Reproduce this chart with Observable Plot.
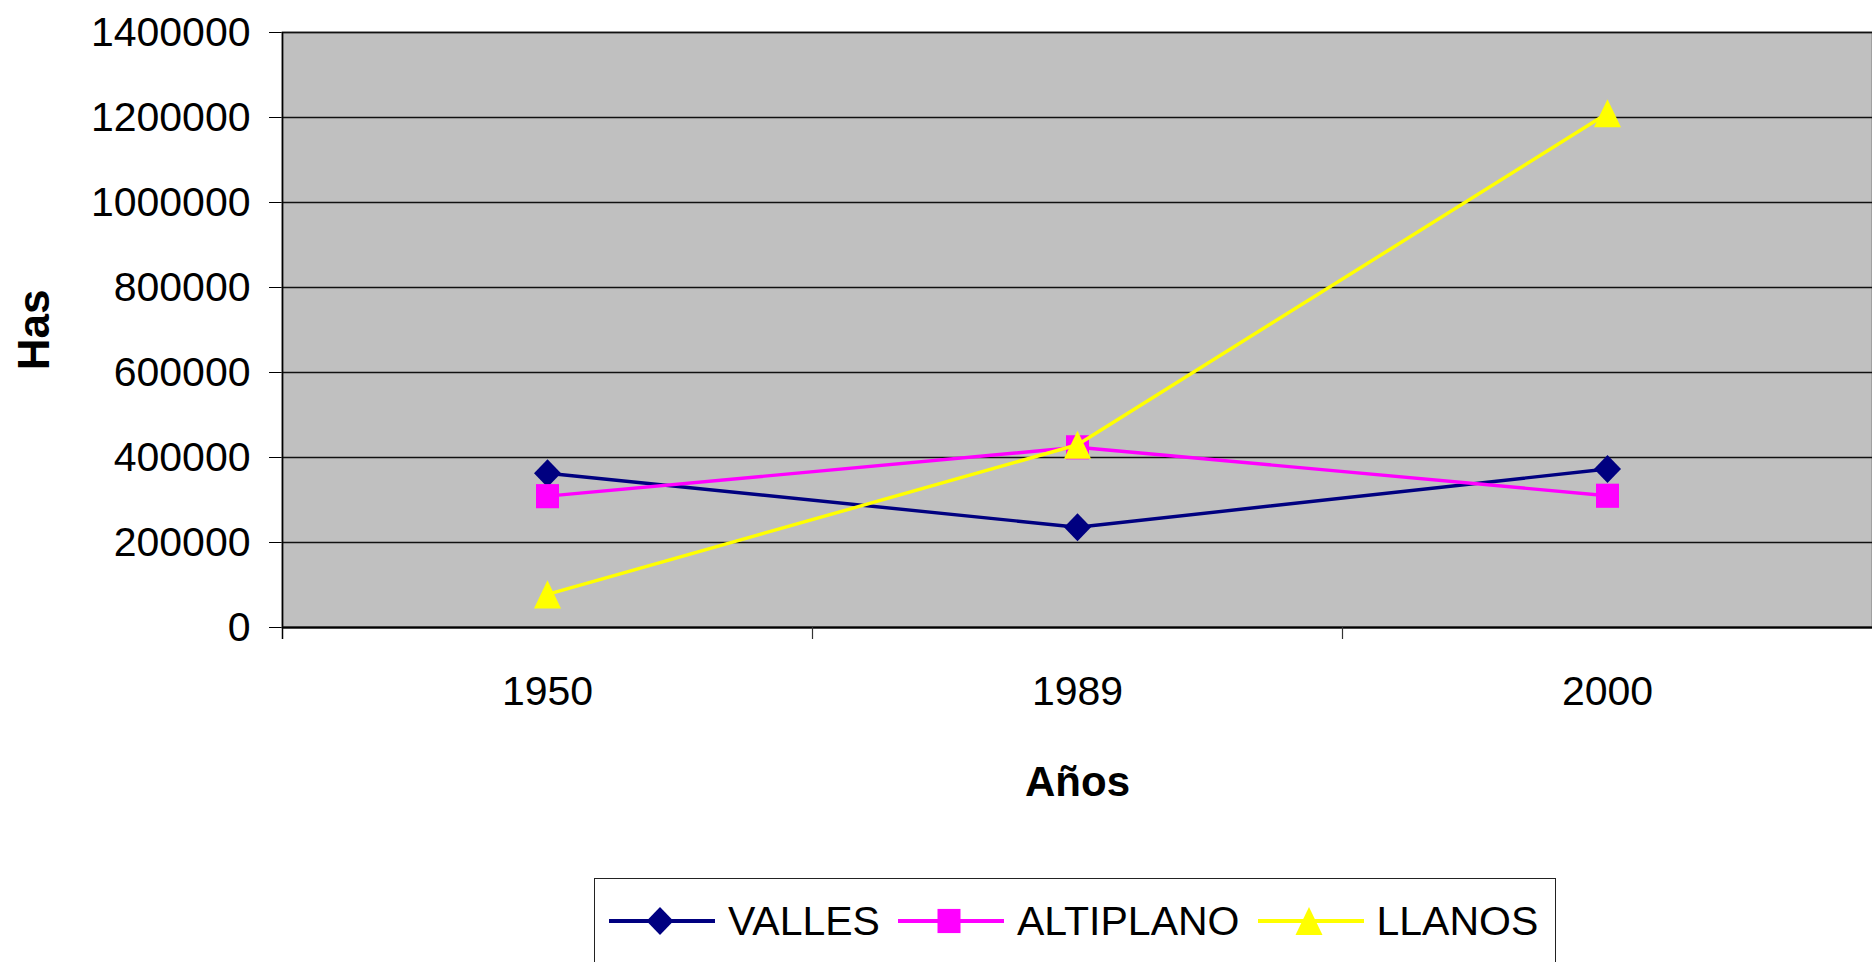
<!DOCTYPE html>
<html>
<head>
<meta charset="utf-8">
<script src="https://cdn.jsdelivr.net/npm/d3@7"></script>
<script src="https://cdn.jsdelivr.net/npm/@observablehq/plot@0.6"></script>
<style>
  html, body { margin: 0; padding: 0; overflow: hidden; background: #fff; }
  body { width: 1872px; height: 962px; position: relative; font-family: "Liberation Sans", Arial, sans-serif; }
  #legend { position: absolute; left: 594px; top: 878px; width: 962px; height: 120px; border: 1.5px solid #222; box-sizing: border-box; background: #fff; }
  #legend .row { position: absolute; top: 22px; left: 14px; display: flex; align-items: center; height: 40px; }
  #legend .item { display: flex; align-items: center; }
  #legend .lab { font-size: 41px; color: #000; margin-left: 13px; margin-right: 18px; line-height: 40px; }
</style>
</head>
<body>
<div id="chart"></div>
<div id="legend"><div class="row"></div></div>
<script>
// ---- data ----
const years = ["1950", "1989", "2000"];
const seriesNames = ["VALLES", "ALTIPLANO", "LLANOS"];
const valles = [363000, 236000, 373000];
const altiplano = [309000, 424000, 310000];
const llanos = [78000, 430000, 1210000];
const yTicks = [0, 200000, 400000, 600000, 800000, 1000000, 1200000, 1400000];
const seriesColors = ["#000080", "#ff00ff", "#ffff00"];

// ---- Excel-like marker shapes ----
const diamondSym = { draw(ctx, size) { const s = Math.sqrt(size) / 2; ctx.moveTo(0, -s * 1.04); ctx.lineTo(s, 0); ctx.lineTo(0, s * 1.04); ctx.lineTo(-s, 0); ctx.closePath(); } };
const squareSym = { draw(ctx, size) { const s = Math.sqrt(size) / 2; ctx.moveTo(-s, -s * 1.05); ctx.lineTo(s, -s * 1.05); ctx.lineTo(s, s * 1.05); ctx.lineTo(-s, s * 1.05); ctx.closePath(); } };
const triangleSym = { draw(ctx, size) { const s = Math.sqrt(size) / 2; ctx.moveTo(0, -s * 1.04); ctx.lineTo(s, s * 1.04); ctx.lineTo(-s, s * 1.04); ctx.closePath(); } };
const symbols = [diamondSym, squareSym, triangleSym];
const markerWidths = [27, 23, 27];

const seriesValues = [valles, altiplano, llanos];
const rows = [];
seriesNames.forEach((name, si) => {
  years.forEach((yr, i) => rows.push({ series: name, year: yr, value: seriesValues[si][i] }));
});

const W = 1872, H = 870;
const mL = 282, mR = 0, mT = 32, mB = 243;
const halfStep = (W - mL - mR) / years.length / 2;
const FONT = '"Liberation Sans", Arial, sans-serif';

const marks = [
  Plot.frame({ fill: "#c0c0c0", stroke: "#808080", strokeWidth: 2 }),
  Plot.ruleY(yTicks, { stroke: "#111", strokeWidth: 1.3 }),
  Plot.ruleY([0], { stroke: "#000", strokeWidth: 2 }),
  // left axis line (category boundary) extending down as a tick
  Plot.ruleX([years[0]], { dx: -halfStep, stroke: "#000", strokeWidth: 1.5, insetBottom: -12 }),
  // category boundary ticks below axis
  Plot.ruleX(years.slice(1), { x: d => d, y1: () => 0, y2: () => 0, dx: -halfStep, stroke: "#333", strokeWidth: 1.2, insetBottom: -12 })
];
seriesNames.forEach((name, si) => {
  const data = rows.filter(d => d.series === name);
  marks.push(Plot.line(data, { x: "year", y: "value", stroke: seriesColors[si], strokeWidth: 3.4 }));
  marks.push(Plot.dot(data, { x: "year", y: "value", symbol: symbols[si], r: markerWidths[si] / Math.sqrt(Math.PI), fill: seriesColors[si], stroke: "none" }));
});
marks.push(Plot.text(["Has"], { frameAnchor: "left", textAnchor: "middle", lineAnchor: "middle", dx: -248, rotate: -90, fontSize: 44, fontWeight: "bold", fill: "#000", fontFamily: FONT }));
marks.push(Plot.text(["Años"], { frameAnchor: "bottom", dy: 155, fontSize: 42, fontWeight: "bold", fill: "#000", fontFamily: FONT, lineAnchor: "middle" }));

const chart = Plot.plot({
  width: W, height: H,
  marginLeft: mL, marginRight: mR, marginTop: mT, marginBottom: mB,
  style: { fontSize: "41px", fontFamily: FONT, color: "#000", background: "transparent", overflow: "visible" },
  x: { type: "point", domain: years, padding: 0.5, tickSize: 0, tickPadding: 48, label: null },
  y: { domain: [0, 1400000], ticks: yTicks, tickSize: 13, tickPadding: 19, tickFormat: d => String(d), label: null },
  marks
});
document.getElementById("chart").appendChild(chart);

// ---- legend ----
const row = d3.select("#legend .row");
seriesNames.forEach((name, si) => {
  const item = row.append("div").attr("class", "item");
  const svg = item.append("svg").attr("width", 106).attr("height", 40);
  svg.append("line").attr("x1", 0).attr("x2", 106).attr("y1", 20).attr("y2", 20)
    .attr("stroke", seriesColors[si]).attr("stroke-width", 4);
  const w = markerWidths[si];
  svg.append("path").attr("transform", "translate(51,20)")
    .attr("d", d3.symbol(symbols[si], w * w)())
    .attr("fill", seriesColors[si]);
  item.append("span").attr("class", "lab").text(name);
});
</script>
</body>
</html>
